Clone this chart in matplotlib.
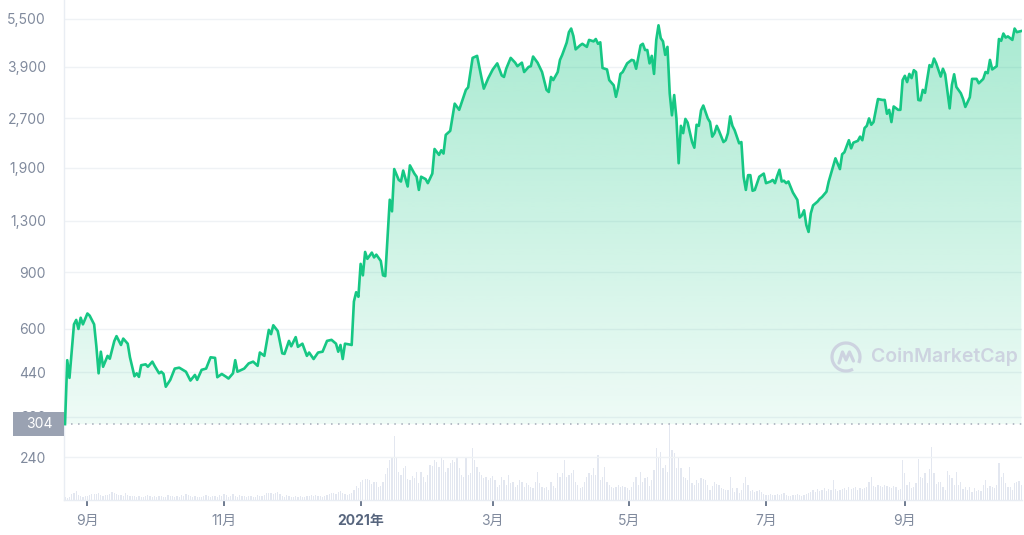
import numpy as np
import pandas as pd
import matplotlib
matplotlib.use("Agg")
import matplotlib.pyplot as plt
import matplotlib.dates as mdates
from matplotlib.patches import Rectangle, Arc
from matplotlib.lines import Line2D
from matplotlib.transforms import IdentityTransform
from matplotlib.ticker import FixedLocator, NullLocator

# ---------------- data ----------------
start_date = "2020-08-22"
start_price = 304

price_days = [0, 1, 2, 4, 5, 6, 7, 8, 10, 11, 13, 14, 15, 16, 17, 19, 20, 22, 23, 25, 26, 28, 29, 31, 32, 33, 34, 36, 37, 39,
              40, 42, 43, 44, 45, 47, 49, 51, 54, 56, 58, 59, 61, 63, 65, 67, 68, 70, 72, 73, 75, 76, 77, 80, 82, 84, 86, 87, 89,
              91, 92, 93, 95, 97, 98, 100, 101, 103, 104, 106, 108, 109, 111, 113, 115, 117, 119, 121, 122, 123, 124, 125, 127,
              128, 129, 130, 131, 132, 133, 134, 135, 137, 138, 139, 141, 142, 143, 145, 146, 147, 149, 150, 151, 153, 154, 156,
              157, 158, 159, 161, 162, 164, 165, 167, 168, 169, 170, 172, 174, 176, 179, 180, 182, 184, 186, 187, 189, 191, 193,
              195, 196, 197, 199, 201, 202, 204, 205, 207, 208, 209, 211, 213, 215, 216, 217, 218, 220, 221, 222, 224, 225, 226,
              227, 228, 230, 231, 233, 234, 236, 237, 238, 239, 240, 242, 243, 245, 246, 247, 248, 249, 251, 253, 254, 255, 257,
              258, 259, 260, 261, 262, 263, 264, 265, 266, 267, 268, 269, 270, 271, 272, 273, 274, 275, 276, 277, 278, 280, 281,
              282, 283, 284, 285, 287, 288, 289, 290, 291, 292, 294, 295, 296, 297, 298, 299, 301, 302, 303, 304, 305, 306, 307,
              308, 310, 312, 313, 315, 316, 317, 318, 319, 320, 321, 322, 323, 325, 327, 328, 329, 330, 331, 332, 333, 334, 336,
              337, 338, 340, 341, 344, 346, 347, 348, 350, 351, 352, 354, 355, 356, 357, 358, 359, 360, 361, 363, 365, 366, 367,
              368, 369, 370, 372, 373, 374, 375, 376, 377, 378, 379, 380, 381, 382, 383, 384, 386, 387, 388, 389, 391, 392, 393,
              395, 396, 397, 398, 400, 401, 402, 404, 405, 407, 408, 410, 411, 412, 413, 414, 416, 417, 418, 419, 420, 421, 423,
              424, 425, 427]

price = [304, 480, 423, 620, 640, 600, 650, 620, 670, 660, 620, 530, 437, 510, 458, 495, 485, 550, 570, 535, 560, 540, 490, 428,
         437, 426, 463, 466, 458, 475, 461, 437, 442, 435, 397, 417, 452, 455, 442, 415, 432, 417, 448, 452, 490, 488, 425, 435,
         426, 421, 437, 480, 442, 452, 469, 475, 461, 507, 495, 596, 578, 616, 591, 504, 502, 551, 530, 566, 528, 540, 495, 507,
         484, 507, 510, 551, 555, 540, 510, 535, 484, 540, 537, 535, 730, 780, 755, 955, 880, 1040, 990, 1035, 1000, 1020, 975,
         880, 875, 1510, 1390, 1880, 1740, 1720, 1860, 1660, 1930, 1820, 1780, 1620, 1780, 1750, 1700, 1820, 2170, 2080, 2150,
         2100, 2400, 2470, 3000, 2870, 3310, 3370, 4160, 4220, 3600, 3340, 3600, 3830, 4000, 3670, 3630, 3850, 4160, 4020, 3920,
         4020, 3760, 3900, 3920, 4200, 4020, 3760, 3310, 3260, 3630, 3550, 3760, 4100, 4250, 4640, 5000, 5130, 4860, 4420, 4550,
         4600, 4500, 4730, 4680, 4760, 4600, 4650, 3870, 3830, 3550, 3420, 3150, 3370, 3710, 3760, 4000, 4100, 4080, 3850, 4550,
         4600, 4400, 4400, 4000, 4220, 3710, 4730, 5250, 4790, 4680, 4250, 4500, 3230, 2760, 3190, 2700, 1960, 2560, 2430, 2690,
         2620, 2280, 2190, 2580, 2560, 2860, 2960, 2700, 2630, 2370, 2430, 2560, 2470, 2280, 2310, 2430, 2740, 2560, 2480, 2260,
         2280, 1780, 1620, 1800, 1800, 1610, 1620, 1780, 1820, 1700, 1720, 1740, 1700, 1790, 1870, 1720, 1730, 1700, 1720, 1590,
         1508, 1330, 1350, 1400, 1260, 1200, 1370, 1450, 1490, 1520, 1540, 1600, 1720, 2030, 1880, 2090, 2120, 2310, 2180, 2270,
         2300, 2370, 2310, 2520, 2560, 2700, 2580, 2630, 3100, 3080, 3080, 2790, 2870, 2630, 2940, 2870, 2870, 3550, 3660, 3500,
         3710, 3600, 3810, 3760, 3080, 3070, 3310, 3240, 3950, 3900, 4140, 4000, 3640, 3850, 3700, 2900, 3430, 3700, 3380, 3230,
         3100, 2930, 3140, 3580, 3580, 3470, 3580, 3760, 3730, 4100, 3830, 3920, 4760, 4700, 4950, 4810, 4850, 4730, 5130, 5000,
         5040]

# daily volume (relative units), one value per day from start_date
volume = (
    [3, 2, 3, 6, 7, 9, 5, 4, 3, 4, 4, 5, 6]
    + [6, 6, 7, 5, 4, 5, 5, 6, 8, 7, 6, 5, 5, 4, 7, 5, 4, 4]
    + [4, 3, 4, 3, 3, 4, 5, 4, 3, 4, 3, 4, 4, 3, 3, 5, 4, 4, 3, 4, 3, 5, 4, 6, 5, 4, 3, 4, 3, 3]
    + [3, 4, 5, 4, 3, 4, 4, 3, 5, 4, 6]
    + [5, 3, 4, 6, 4, 3, 5, 4, 4, 3, 4, 4, 3, 3, 5, 4, 4, 5, 7, 7, 7, 6, 7, 8]
    + [6, 4, 3, 5, 4, 3, 3, 4, 3, 4, 3, 3, 4, 4, 5]
    + [4, 5, 4, 4, 3, 4, 5, 6, 7, 7, 6, 8, 9, 7, 6, 5, 6, 7]
    + [10, 14, 12, 18, 20, 21, 21, 20, 16, 18, 18, 13, 14, 18, 26, 32, 40]
    + [42, 63, 43, 28, 25, 32]
    + [34, 21, 20, 24, 22, 28, 17, 28, 23, 18, 25, 35, 34, 40, 38, 33, 43, 40, 28, 32, 37, 40, 38, 42, 32]
    + [25, 23, 43, 25, 27, 52, 40, 33, 28, 25, 22, 23, 20, 22, 24, 20]
    + [13, 15, 23, 20, 15, 25, 17, 18, 13, 15, 20, 18, 13, 17, 15]
    + [13, 12, 18, 28, 17, 13, 12, 13, 10, 18, 14, 12, 27, 23]
    + [27, 40, 23, 25, 27, 30, 18, 15, 12, 13, 18, 23, 27, 25, 32, 25, 45, 20, 23]
    + [33, 18, 15, 13, 12, 13, 15]
    + [13, 14, 13, 12, 10, 13, 18, 23, 15, 28, 18, 22, 23, 14, 20]
    + [30]
    + [52, 42, 48, 32, 35, 28, 74, 50, 47, 32, 43, 32, 23, 22, 20, 33, 17, 15, 20, 17, 22, 21, 20, 15, 10, 14, 18,
       16, 15, 12, 11, 10, 10, 23, 12, 8, 12, 7, 10, 17, 23, 15]
    + [9, 10, 8, 9, 10, 8]
    + [6, 5, 5, 6, 5, 5, 6, 5, 6, 7, 5, 4, 4, 5, 5, 6, 5, 4, 5, 6, 7]
    + [8, 10, 8, 11, 9, 10, 12, 9, 11, 10, 20, 11, 9, 10]
    + [11, 12, 10, 13, 11, 12, 13, 10, 12, 11, 12, 13]
    + [18, 23]
    + [14, 13, 15, 14, 13, 15, 14, 13, 12, 14, 13, 10, 11]
    + [40, 27, 15, 18, 12, 13, 17, 41, 23, 22, 27, 17, 31, 53, 27, 16, 18, 18, 13, 10, 29, 25, 22, 15, 28, 15, 18,
       11, 13, 10, 13, 8, 12, 9, 10, 9, 15, 20, 12, 14, 13, 12, 15, 37, 23, 27, 17, 13, 13, 10, 17, 18, 19, 15]
)

ytick_values = [240, 320, 440, 600, 900, 1300, 1900, 2700, 3900, 5500]
xtick_dates = ["2020-09-01", "2020-11-01", "2021-01-01", "2021-03-01", "2021-05-01", "2021-07-01", "2021-09-01"]
xtick_labels = ["9月", "11月", "2021年", "3月", "5月", "7月", "9月"]
watermark = "CoinMarketCap"

# ---------------- style ----------------
GREEN = "#16c784"
LABEL = "#808a9d"
GRID = "#eff2f5"
VOL = "#e3e7f0"

t0 = pd.Timestamp(start_date)
pdates = mdates.date2num(t0 + pd.to_timedelta(price_days, unit="D"))
vdates = mdates.date2num(t0 + pd.to_timedelta(np.arange(len(volume)), unit="D"))

fig = plt.figure(figsize=(10.24, 5.35), dpi=100)
fig.patch.set_facecolor("white")
pos = [64 / 1024, 35 / 535, (1022 - 64) / 1024, 500 / 535]

vax = fig.add_axes(pos)
ax = fig.add_axes(pos, sharex=vax)
ax.patch.set_visible(False)

# volume
vax.bar(vdates, volume, width=0.55, color=VOL, linewidth=0, align="center")
vax.set_ylim(0, max(volume) * 6.7)
vax.yaxis.set_major_locator(NullLocator())
for s in vax.spines.values():
    s.set_visible(False)
vax.tick_params(axis="x", which="both", length=0, labelbottom=False)

# price
ax.set_yscale("log")
ylo, yhi = 176.8, 6290
xlo = mdates.date2num(t0 - pd.Timedelta(days=0.45))
xhi = mdates.date2num(t0 + pd.Timedelta(days=427.3))

for v in ytick_values:
    ax.axhline(v, color=GRID, lw=1.0, zorder=0.5)

fb = ax.fill_between(pdates, price, start_price, color="none", lw=0)
clip = fb.get_paths()[0]
n = 256
frac = np.linspace(1, 0, n)
img = np.zeros((n, 1, 4))
img[..., 0:3] = matplotlib.colors.to_rgb(GREEN)
img[..., 3] = np.clip(0.013 + 0.373 * frac, 0, 1)[:, None]
im = ax.imshow(img, extent=[0, 1, 0, 1], transform=ax.transAxes, aspect="auto",
               origin="upper", zorder=1, interpolation="bilinear")
im.set_clip_path(clip, transform=ax.transData)

ax.plot(pdates, price, color=GREEN, lw=1.9, zorder=3, solid_joinstyle="round")
ax.axhline(start_price, color="#a3aab8", lw=1.1, linestyle=(0, (1, 3.6)), zorder=2)

ax.set_xlim(xlo, xhi)
ax.set_ylim(ylo, yhi)

ax.yaxis.set_major_locator(FixedLocator(ytick_values))
ax.yaxis.set_minor_locator(NullLocator())
ax.set_yticklabels([f"{v:,}" for v in ytick_values])
ax.tick_params(axis="y", which="both", length=0, pad=13, labelcolor=LABEL, labelsize=10)
for t in ax.get_yticklabels():
    t.set_family(["Inter", "DejaVu Sans"])

ax.xaxis.set_major_locator(FixedLocator(mdates.date2num(pd.to_datetime(xtick_dates))))
ax.xaxis.set_minor_locator(NullLocator())
ax.set_xticklabels(xtick_labels)
ax.tick_params(axis="x", which="both", length=4, width=1.2, color="#58667e", pad=6,
               labelcolor=LABEL, labelsize=10, direction="out")
for t in ax.get_xticklabels():
    t.set_family(["Inter", "Noto Sans CJK SC", "DejaVu Sans"])
    if "年" in t.get_text():
        t.set_fontweight("bold")
        t.set_color("#58667e")

for k in ["top", "right"]:
    ax.spines[k].set_visible(False)
ax.spines["left"].set_color("#e9edf3")
ax.spines["bottom"].set_color("#e9edf3")
ax.spines["left"].set_linewidth(1.0)
ax.spines["bottom"].set_linewidth(1.0)

# start price badge
badge = Rectangle((13, 535 - 436), 51, 24, transform=IdentityTransform(), facecolor="#9aa2b2",
                  edgecolor="none", zorder=10)
fig.patches.append(badge)
fig.text(39 / 1024, (535 - 424) / 535, f"{start_price}", ha="center", va="center", color="white",
         fontsize=10, family=["Inter", "DejaVu Sans"], zorder=11)

# watermark
WM = "#cdd3e0"
cx, cy = 846, 535 - 357
arc = Arc((cx, cy), 28, 28, theta1=-25, theta2=300, transform=IdentityTransform(),
          color=WM, lw=2.3, zorder=1.5)
fig.patches.append(arc)
wx = np.array([-7, -3.5, 0, 3.5, 7.5]) + cx
wy = np.array([-6, 5, -3, 5, -4]) + cy
fig.lines.append(Line2D(wx, wy, transform=IdentityTransform(), color=WM, lw=2.3,
                        solid_joinstyle="round", solid_capstyle="round"))
fig.text(871 / 1024, (535 - 357) / 535, watermark, ha="left", va="center", color=WM,
         fontsize=14, fontweight="semibold", family=["Inter", "DejaVu Sans"])

fig.savefig("out.png", dpi=100, facecolor="white")
